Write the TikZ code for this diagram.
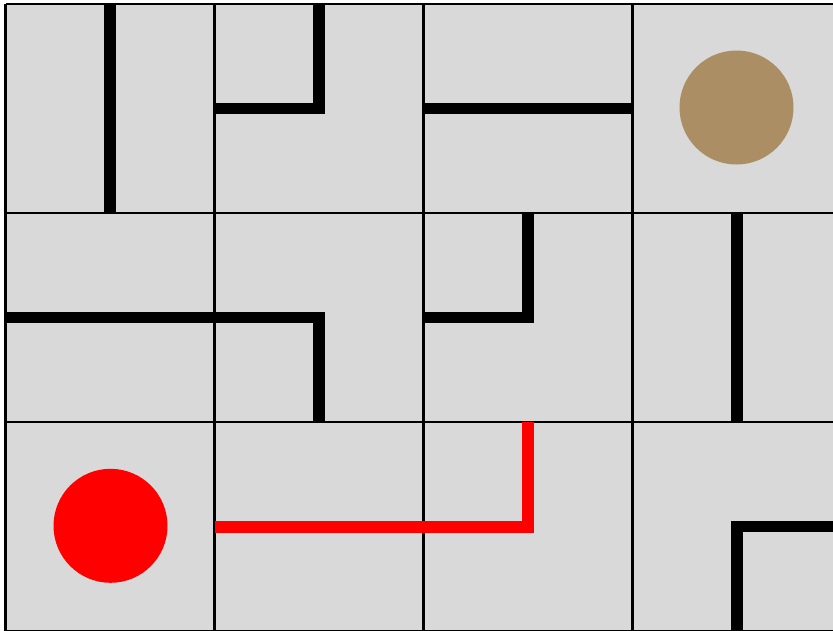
\documentclass[tikz,border=0pt]{standalone}
\definecolor{cellgray}{HTML}{D9D9D9}
\definecolor{goalbrown}{RGB}{171,142,99}
\definecolor{pathred}{HTML}{FF0000}
\begin{document}
\begin{tikzpicture}[x=1pt,y=-1pt,
  gridline/.style={draw=black,line width=2.6pt},
  wall/.style={draw=black,line width=11.5pt,line join=miter},
  redwall/.style={draw=pathred,line width=12pt,line join=miter},
  disc/.style={circle,minimum size=114pt,inner sep=0pt,draw=none}]
\useasboundingbox (0,0) rectangle (833,630);
\clip (0,0) rectangle (833,630);
% background of cells
\fill[cellgray] (5.5,4) rectangle (841.5,631);
% grid lines
\foreach \x in {5.5,214.5,423.5,632.5,841.5}
  \draw[gridline] (\x,4) -- (\x,631);
\foreach \y in {4,213,422,631}
  \draw[gridline] (5.5,\y) -- (841.5,\y);
% walls, row 0
\draw[wall] (110,4) -- (110,213);
\draw[wall] (319,4) -- (319,108.5) -- (214.5,108.5);
\draw[wall] (423.5,108.5) -- (632.5,108.5);
% walls, row 1
\draw[wall] (5.5,317.5) -- (319,317.5) -- (319,422);
\draw[wall] (528,213) -- (528,317.5) -- (423.5,317.5);
\draw[wall] (737,213) -- (737,422);
% walls, row 2
\draw[wall] (737,631) -- (737,526.5) -- (841.5,526.5);
\draw[redwall] (214.5,526.5) -- (528,526.5) -- (528,422);
% discs
\node[disc,fill=goalbrown] (goal) at (736.5,107.5) {};
\node[disc,fill=pathred] (start) at (110.5,525.8) {};
\end{tikzpicture}
\end{document}
